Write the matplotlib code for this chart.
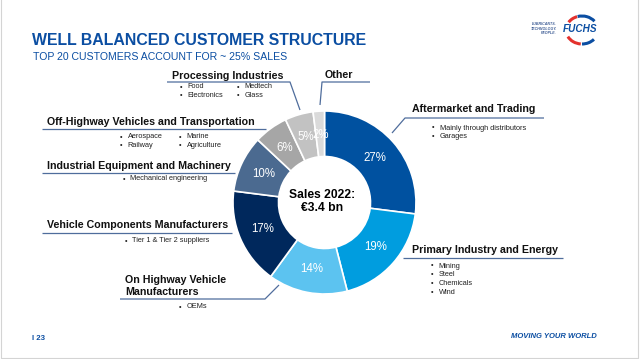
import matplotlib.pyplot as plt
from matplotlib.patches import Arc

# Daten: Umsatzanteile nach Kundensegment 2022 (im Uhrzeigersinn ab 12 Uhr)
segments = [
    'Aftermarket and Trading',
    'Primary Industry and Energy',
    'On Highway Vehicle\nManufacturers',
    'Vehicle Components Manufacturers',
    'Industrial Equipment and Machinery',
    'Off-Highway Vehicles and Transportation',
    'Processing Industries',
    'Other',
]
shares = [27, 19, 14, 17, 10, 6, 5, 2]
examples = [
    [['Mainly through distributors', 'Garages']],
    [['Mining', 'Steel', 'Chemicals', 'Wind']],
    [['OEMs']],
    [['Tier 1 & Tier 2 suppliers']],
    [['Mechanical engineering']],
    [['Aerospace', 'Railway'], ['Marine', 'Agriculture']],
    [['Food', 'Electronics'], ['Medtech', 'Glass']],
    [],
]
sales_year = 2022
sales_bn = 3.4
title = 'WELL BALANCED CUSTOMER STRUCTURE'
subtitle = 'TOP 20 CUSTOMERS ACCOUNT FOR ~ 25% SALES'
page_no = 23

# Farben / Layout (Pixelkoordinaten, y nach unten)
colors = ['#0051a0', '#009ddf', '#5cc3f0', '#00285c', '#4b6a90', '#a6a6a6', '#c2c2c2', '#dadada']
BLUE = '#0b4ea2'
LINE = '#4f6d9c'
# Beschriftung: (x, Grundlinie), Unterstrich (x0, x1, y), Endpunkt der Linie, Spalten-x, erste Zeile y
label_xy = [(412, 112), (412, 253), (125, 283), (47, 228), (47, 169), (47, 125), (172, 79), (325, 78)]
underline = [(544, 405, 118), (563, 403, 258), (120, 265, 299), (42, 232, 233),
             (42, 235, 173), (42, 266, 129), (167, 290, 82), (370, 322, 82)]
leader = [(392, 133), None, (279, 285), None, None, None, (300, 110), (320, 105)]
bullet_x = [[432], [431], [179], [125], [123], [120, 179], [180, 237], []]
bullet_y0 = [128, 266, 307, 241, 179, 137, 87, 0]
bullet_dy = 8.7

plt.rcParams['font.family'] = ['Liberation Sans', 'DejaVu Sans']

fig = plt.figure(figsize=(6.4, 3.59), dpi=100)
ax = fig.add_axes([0, 0, 1, 1])
ax.set_xlim(0, 640)
ax.set_ylim(359, 0)
ax.axis('off')

# Ring
cx, cy, R = 324.5, 202.5, 91.5
wedges, _, pcts = ax.pie(
    shares, colors=colors, startangle=-90, counterclock=True,
    radius=R, center=(cx, cy), frame=True,
    autopct=lambda p: f'{p:.0f}%', pctdistance=0.74,
    wedgeprops=dict(width=R - 46, edgecolor='white', linewidth=1.2),
    textprops=dict(color='white', fontsize=8.3),
)
ax.set_xlim(0, 640)
ax.set_ylim(359, 0)
ax.set_aspect('auto')
ax.axis('off')

ax.text(cx - 2, cy - 1, f'Sales {sales_year}:\n€{sales_bn} bn', ha='center', va='center',
        fontsize=8.7, fontweight='bold', color='black', linespacing=1.15)

# Segmentbeschriftungen
for i, name in enumerate(segments):
    x, y = label_xy[i]
    lines = name.split('\n')
    for k, line in enumerate(lines):
        ax.text(x, y + k * 12, line, ha='left', va='baseline', fontsize=7.7,
                fontweight='bold', color='#111111')
    x0, x1, uy = underline[i]
    xs, ys = [x0, x1], [uy, uy]
    if leader[i] is not None:
        xs.append(leader[i][0])
        ys.append(leader[i][1])
    ax.plot(xs, ys, color=LINE, lw=0.9, solid_capstyle='butt')
    for col, items in enumerate(examples[i]):
        bx = bullet_x[i][col]
        for r, item in enumerate(items):
            by = bullet_y0[i] + r * bullet_dy
            ax.text(bx, by, '•', ha='left', va='center', fontsize=5.2, color='#222222')
            ax.text(bx + 7.5, by, item, ha='left', va='center', fontsize=5.3, color='#222222')

# Kopfzeile
ax.text(32, 45, title, ha='left', va='baseline', fontsize=11.4, fontweight='bold', color=BLUE)
ax.text(33, 59.5, subtitle, ha='left', va='baseline', fontsize=7.6, color=BLUE)

# Logo
lx, ly = 582, 30
for color, a, b, w in [('#e3312d', 110, 150, 2.2), (BLUE, 35, 108, 2.2),
                       ('#e3312d', 205, 265, 2.2), (BLUE, 270, 322, 2.2)]:
    ax.add_patch(Arc((lx, ly), 32, 28, theta1=-b, theta2=-a, color=color, lw=w))
ax.text(580, 29.5, 'FUCHS', ha='center', va='center', fontsize=7.2,
        fontweight='bold', fontstyle='italic', color=BLUE)
ax.text(557, 28.5, 'LUBRICANTS.\nTECHNOLOGY.\nPEOPLE.', ha='right', va='center',
        fontsize=2.6, fontweight='bold', fontstyle='italic', color='#3d5c95', linespacing=1.1)

# Fusszeile
ax.text(32, 338, f'I {page_no}', ha='left', va='center', fontsize=5.6, fontweight='bold', color=BLUE)
ax.text(597, 337, 'MOVING YOUR WORLD', ha='right', va='center', fontsize=5.5,
        fontweight='bold', fontstyle='italic', color=BLUE)

# Rahmen
ax.plot([0.5, 0.5, 638, 638], [0, 358, 358, 0], color='#d4d4d4', lw=0.8)

fig.savefig('out.png', dpi=100)
